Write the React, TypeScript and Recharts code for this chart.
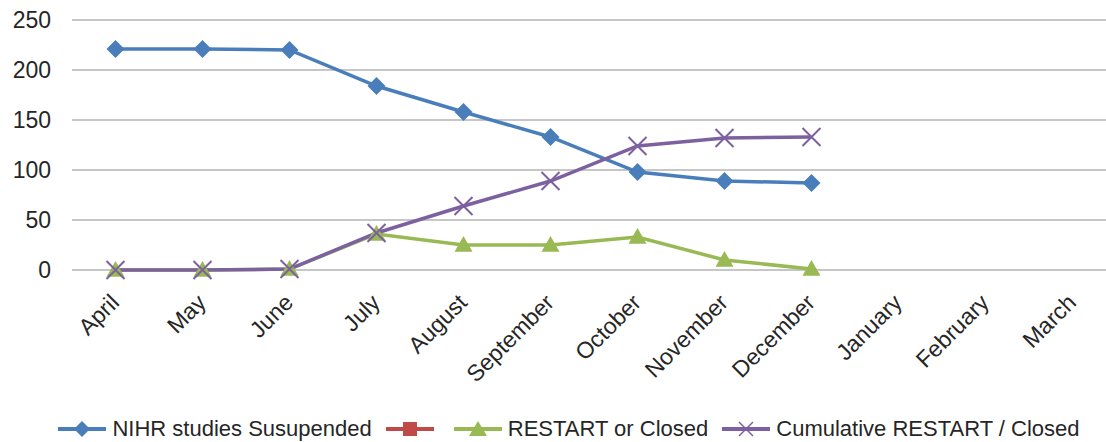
import React from "react";
import {
  LineChart,
  Line,
  XAxis,
  YAxis,
  CartesianGrid,
  Legend,
} from "recharts";

const months = [
  "April", "May", "June", "July", "August", "September",
  "October", "November", "December", "January", "February", "March",
];
const suspended = [221, 221, 220, 184, 158, 133, 98, 89, 87, null, null, null];
const blankSeries = [null, null, null, null, null, null, null, null, null, null, null, null];
const restartClosed = [0, 0, 1, 36, 25, 25, 33, 10, 1, null, null, null];
const cumulative = [0, 0, 1, 37, 64, 89, 124, 132, 133, null, null, null];
const yTicks = [0, 50, 100, 150, 200, 250];

const data = months.map((m, i) => ({
  month: m,
  suspended: suspended[i],
  blank: blankSeries[i],
  restart: restartClosed[i],
  cumulative: cumulative[i],
}));

const BLUE = "#4a7ebb";
const RED = "#be4b48";
const GREEN = "#98b954";
const PURPLE = "#7d60a0";
const FONT = "'Liberation Sans', Arial, sans-serif";

const Diamond = (props: any) => {
  const { cx, cy, value } = props;
  if (value == null || cx == null) return null;
  const r = 9;
  return (
    <polygon
      key={`d-${cx}`}
      points={`${cx},${cy - r} ${cx + r},${cy} ${cx},${cy + r} ${cx - r},${cy}`}
      fill={BLUE}
    />
  );
};

const Triangle = (props: any) => {
  const { cx, cy, value } = props;
  if (value == null || cx == null) return null;
  const r = 9;
  return (
    <polygon
      key={`t-${cx}`}
      points={`${cx},${cy - r} ${cx + r},${cy + r * 0.75} ${cx - r},${cy + r * 0.75}`}
      fill={GREEN}
    />
  );
};

const Cross = (props: any) => {
  const { cx, cy, value } = props;
  if (value == null || cx == null) return null;
  const r = 9;
  return (
    <g key={`x-${cx}`} stroke={PURPLE} strokeWidth={2}>
      <line x1={cx - r} y1={cy - r} x2={cx + r} y2={cy + r} />
      <line x1={cx - r} y1={cy + r} x2={cx + r} y2={cy - r} />
    </g>
  );
};

const MonthTick = (props: any) => {
  const { x, y, payload } = props;
  const ax = x + 5;
  const ay = y + 26;
  return (
    <text
      x={ax}
      y={ay}
      textAnchor="end"
      fontSize={23}
      fontFamily={FONT}
      fill="#262626"
      transform={`rotate(-45, ${ax}, ${ay})`}
    >
      {payload.value}
    </text>
  );
};

const legendItems = [
  { label: "NIHR studies Susupended", color: BLUE, marker: "diamond" },
  { label: "", color: RED, marker: "square" },
  { label: "RESTART or Closed", color: GREEN, marker: "triangle" },
  { label: "Cumulative RESTART / Closed", color: PURPLE, marker: "cross" },
];

const LegendIcon = ({ color, marker }: { color: string; marker: string }) => (
  <svg width={52} height={20} style={{ marginRight: 4 }}>
    <line x1={2} y1={10} x2={50} y2={10} stroke={color} strokeWidth={4} />
    {marker === "diamond" && <polygon points="26,2 34,10 26,18 18,10" fill={color} />}
    {marker === "square" && <rect x={19} y={3} width={14} height={14} fill={color} />}
    {marker === "triangle" && <polygon points="26,2 35,17 17,17" fill={color} />}
    {marker === "cross" && (
      <g stroke={color} strokeWidth={1.5}>
        <line x1={19} y1={3} x2={33} y2={17} />
        <line x1={19} y1={17} x2={33} y2={3} />
      </g>
    )}
  </svg>
);

const renderLegend = () => (
  <div
    style={{
      display: "flex",
      alignItems: "center",
      justifyContent: "center",
      paddingLeft: 42,
      fontFamily: FONT,
      fontSize: 22,
      lineHeight: "26px",
      color: "#262626",
    }}
  >
    {legendItems.map((item, i) => (
      <div key={i} style={{ display: "flex", alignItems: "center", marginRight: 12 }}>
        <LegendIcon color={item.color} marker={item.marker} />
        {item.label && <span>{item.label}</span>}
      </div>
    ))}
  </div>
);

export default function App() {
  return (
    <div
      style={{
        position: "absolute",
        top: 0,
        left: 0,
        width: 1106,
        height: 442,
        overflow: "hidden",
        background: "#fff",
      }}
    >
      <LineChart
        width={1120}
        height={442}
        data={data}
        margin={{ top: 20, right: 4, left: 0, bottom: 0 }}
      >
        <CartesianGrid vertical={false} stroke="#b3b3b3" strokeWidth={1.5} />
        <XAxis
          dataKey="month"
          interval={0}
          tick={<MonthTick />}
          tickLine={false}
          axisLine={false}
          padding={{ left: 43.5, right: 43.5 }}
          height={146}
        />
        <YAxis
          domain={[0, 250]}
          ticks={yTicks}
          width={72}
          tickLine={false}
          axisLine={false}
          tick={{ fontSize: 23, fontFamily: FONT, fill: "#262626", dx: -13 }}
        />
        <Legend
          verticalAlign="bottom"
          height={26}
          wrapperStyle={{ left: 0, width: 1106, top: 416 }}
          content={renderLegend}
        />
        <Line
          dataKey="suspended"
          stroke={BLUE}
          strokeWidth={3.5}
          dot={<Diamond />}
          isAnimationActive={false}
        />
        <Line
          dataKey="blank"
          name=""
          stroke={RED}
          strokeWidth={3.5}
          dot={false}
          isAnimationActive={false}
        />
        <Line
          dataKey="restart"
          stroke={GREEN}
          strokeWidth={3.5}
          dot={<Triangle />}
          isAnimationActive={false}
        />
        <Line
          dataKey="cumulative"
          stroke={PURPLE}
          strokeWidth={3.5}
          dot={<Cross />}
          isAnimationActive={false}
        />
      </LineChart>
    </div>
  );
}
